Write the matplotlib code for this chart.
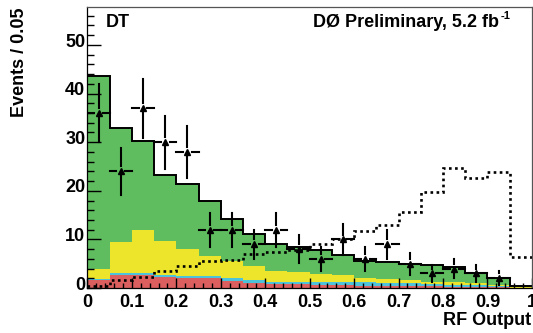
import numpy as np
import matplotlib
matplotlib.use("Agg")
import matplotlib.pyplot as plt
import matplotlib.transforms as mtransforms

plt.rcParams["font.family"] = ["Liberation Sans", "DejaVu Sans"]
plt.rcParams["font.weight"] = "bold"

# RF output histogram, 20 bins of 0.05
bin_width = 0.05
bin_edges = np.arange(21) * bin_width

# background components (events per bin, stacked bottom -> top)
bkg_red = [1.6, 2.7, 2.7, 2.2, 2.0, 2.0, 1.5, 1.1, 0.8, 0.75,
           0.6, 0.6, 0.5, 0.45, 0.45, 0.35, 0.3, 0.25, 0.2, 0.05]
bkg_cyan = [0.2, 0.3, 0.4, 0.4, 0.4, 0.5, 0.5, 0.55, 0.5, 0.45,
            0.7, 0.7, 0.65, 0.5, 0.5, 0.4, 0.4, 0.35, 0.2, 0.05]
bkg_yellow = [2.1, 6.5, 8.8, 7.1, 5.6, 4.1, 3.6, 2.85, 2.3, 2.0,
              1.5, 1.4, 0.95, 0.9, 0.7, 0.55, 0.5, 0.5, 0.2, 0.05]
bkg_green = [39.8, 23.4, 18.4, 13.6, 13.3, 11.2, 8.6, 6.7, 5.4, 5.2,
             5.0, 4.1, 3.5, 3.45, 3.35, 3.4, 3.2, 1.9, 1.4, 0.25]

# signal (scaled), dotted
signal = [0.5, 1.6, 2.3, 3.6, 4.5, 5.6, 5.8, 7.1, 7.5, 7.8,
          9.0, 10.0, 11.7, 13.0, 15.6, 19.8, 24.6, 22.7, 23.8, 6.4]

# data, bins 0..18 (last bin empty)
data_counts = [36, 24, 37, 30, 28, 12, 12, 9, 12, 8,
               6, 10, 6, 9, 5, 3, 4, 3, 2]

COLORS = ["#dc5f5f", "#4cc3da", "#ece52c", "#5fbd5f"]


def main():
    fig = plt.figure(figsize=(5.33, 3.33), dpi=100)
    ax = fig.add_axes([0.164, 0.135, 0.834, 0.844])

    # stacked background
    base = np.zeros(len(bin_edges) - 1)
    for comp, col in zip([bkg_red, bkg_cyan, bkg_yellow, bkg_green], COLORS):
        top = base + np.asarray(comp)
        ax.stairs(top, bin_edges, baseline=base.copy(), fill=True,
                  color=col, linewidth=0, zorder=1)
        base = top

    # total background outline
    ax.stairs(base, bin_edges, baseline=None, color="black", linewidth=1.4, zorder=2)

    # signal dotted
    ax.stairs(signal, bin_edges, baseline=None, color="black", linewidth=1.9,
              linestyle=(0, (1.0, 1.3)), zorder=3)

    # data points with gapped error bars
    centers = bin_edges[:len(data_counts)] + bin_width / 2
    counts = np.asarray(data_counts, dtype=float)
    errs = np.sqrt(counts)
    gx, gy = 0.010, 1.0
    for xc, yc, e in zip(centers, counts, errs):
        ax.plot([xc - bin_width / 2, xc - gx], [yc, yc], color="black", lw=1.5, zorder=4)
        ax.plot([xc + gx, xc + bin_width / 2], [yc, yc], color="black", lw=1.5, zorder=4)
        ax.plot([xc, xc], [yc + gy, yc + e], color="black", lw=1.5, zorder=4)
        ax.plot([xc, xc], [yc - e, yc - gy], color="black", lw=1.5, zorder=4)
    ax.plot(centers, counts, linestyle="none", marker="^", markersize=5,
            color="black", zorder=5)

    ax.set_xlim(0, 1)
    ax.set_ylim(0, 57.8)

    ax.set_xticks(np.arange(0, 1.01, 0.1))
    ax.set_xticklabels(["0", "0.1", "0.2", "0.3", "0.4", "0.5", "0.6", "0.7", "0.8", "0.9", "1"])
    ax.set_xticks(np.arange(0, 1.001, 0.02), minor=True)
    ax.set_yticks(np.arange(0, 51, 10))
    ax.set_yticks(np.arange(0, 57, 2), minor=True)

    ax.tick_params(which="both", direction="in", labelsize=13, width=1.0)
    ax.tick_params(axis="x", which="major", length=7, pad=4)
    ax.tick_params(axis="x", which="minor", length=3.5)
    ax.tick_params(axis="y", which="major", length=10, pad=1.5)
    ax.tick_params(axis="y", which="minor", length=5)
    for lab in ax.get_xticklabels() + ax.get_yticklabels():
        lab.set_fontweight("bold")
    # ROOT puts the y labels a little above the tick
    shift = mtransforms.ScaledTranslation(0, 3.5 / 72, fig.dpi_scale_trans)
    for lab in ax.get_yticklabels():
        lab.set_transform(lab.get_transform() + shift)

    for sp in ax.spines.values():
        sp.set_linewidth(0.9)
        sp.set_zorder(6)
    ax.spines["top"].set_color("#555555")
    ax.spines["right"].set_color("#555555")

    ax.text(0.042, 0.929, "DT", transform=ax.transAxes, fontsize=13,
            fontweight="bold", ha="left", va="baseline", zorder=7)
    t = ax.text(0.507, 0.928, "D\u00d8 Preliminary, 5.2 fb", transform=ax.transAxes,
                fontsize=13, fontweight="bold", ha="left", va="baseline", zorder=7)
    ax.annotate("-1", xy=(1.0, 1.0), xycoords=t, xytext=(1.5, 2.5),
                textcoords="offset points", fontsize=8, fontweight="bold",
                ha="left", va="top", zorder=7)

    fig.text(0.036, 0.976, "Events / 0.05", rotation=90, fontsize=13,
             fontweight="bold", ha="center", va="top")
    fig.text(0.996, 0.024, "RF Output", fontsize=13, fontweight="bold",
             ha="right", va="baseline")

    fig.savefig("out.png", dpi=100)
    plt.close(fig)


if __name__ == "__main__":
    main()
